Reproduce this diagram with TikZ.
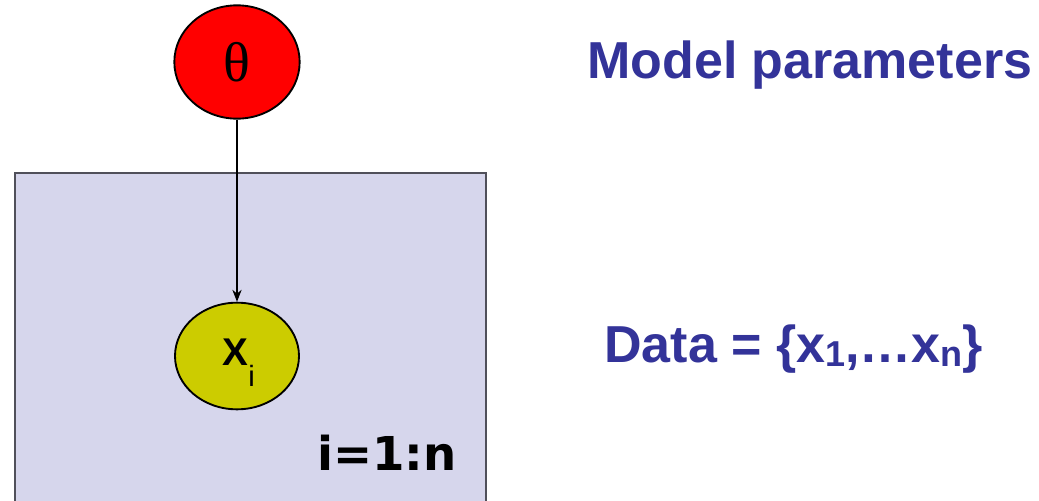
\documentclass[tikz,border=0pt]{standalone}
\usepackage{fontspec}
\setmainfont{Liberation Sans}
\newfontfamily\serifth{Liberation Serif}
\newfontfamily\dejabold{DejaVu Sans}
\usetikzlibrary{shapes.geometric,arrows.meta}
\definecolor{plate}{RGB}{214,214,236}
\definecolor{platedge}{RGB}{80,80,90}
\definecolor{thetared}{RGB}{255,0,0}
\definecolor{xyellow}{RGB}{204,204,0}
\definecolor{labblue}{RGB}{51,51,153}
\tikzset{
  px/.style={x=0.75pt,y=-0.75pt},
  varnode/.style={ellipse,draw=black,line width=1.4pt,inner sep=0pt},
  lab/.style={anchor=base west,inner sep=0pt,text=labblue,font=\fontsize{39}{44}\selectfont\bfseries},
  conn/.style={-{Stealth[length=9pt,width=7pt]},line width=0.8pt}
}
\newcommand{\subsc}[1]{\raisebox{-3pt}{\fontsize{27}{30}\selectfont #1}}
\begin{document}
\begin{tikzpicture}[px]
\useasboundingbox (0,0) rectangle (1039,500);
\fill[white] (0,0) rectangle (1039,500);
\draw[fill=plate,draw=platedge,line width=2pt] (15,173) rectangle (486,510);
\node[varnode,fill=thetared,minimum width=94pt,minimum height=85pt] (theta) at (237,62) {\serifth\fontsize{42}{46}\selectfont θ};
\node[varnode,fill=xyellow,minimum width=93pt,minimum height=80pt] (xi) at (237,356) {};
\node[anchor=base west,inner sep=0pt,font=\bfseries\fontsize{29}{32}\selectfont] (xt) at ([xshift=-11pt,yshift=-6.75pt]xi.center) {X\raisebox{-16pt}[0pt][0pt]{\mdseries\fontsize{22}{24}\selectfont i}};
\draw[conn] (theta) -- (xi);
\node[anchor=base west,inner sep=0pt,font=\dejabold\fontsize{35}{40}\selectfont\bfseries] (plab) at (317,470) {i=1:n};
\node[lab] (mp) at (587,78) {Model parameters};
\node[lab] (data) at (604,362) {Data = \{x\subsc{1},…x\subsc{n}\}};
\end{tikzpicture}
\end{document}
